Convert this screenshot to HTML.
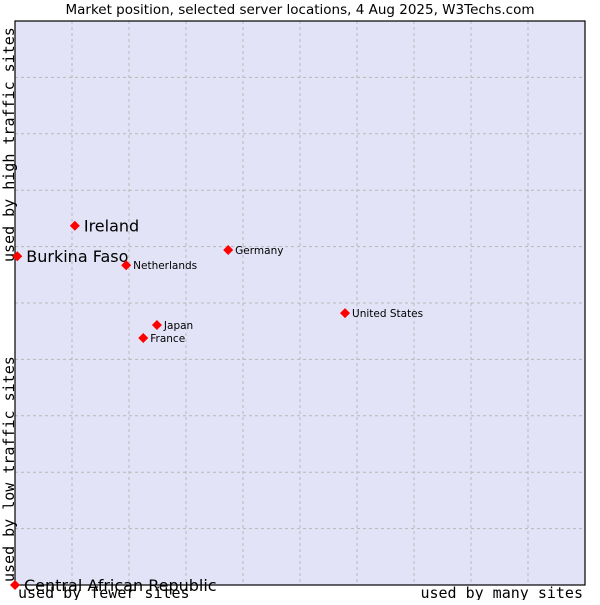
<!DOCTYPE html>
<html><head><meta charset="utf-8"><style>
body{margin:0;background:#fff;width:600px;height:600px;overflow:hidden}
</style></head><body>
<svg width="600" height="600" id="c" font-family="'DejaVu Sans','Liberation Sans',sans-serif">
<text x="300" y="14" text-anchor="middle" font-size="13.5">Market position, selected server locations, 4 Aug 2025, W3Techs.com</text>
<rect x="15" y="21" width="570" height="564" fill="#e3e3f7"/>
<g id="grid"></g>
<rect x="15" y="21" width="570" height="564" fill="none" stroke="#000" stroke-width="1.2"/>
<g font-family="'DejaVu Sans Mono','Liberation Mono',monospace" font-size="15">
<text x="18" y="598">used by fewer sites</text>
<text x="583" y="598" text-anchor="end">used by many sites</text>
<text transform="translate(14,582) rotate(-90)">used by low traffic sites</text>
<text transform="translate(14,262) rotate(-90)">used by high traffic sites</text>
</g>
<g id="pts"></g>
</svg>
<script>
const names=["Ireland","Burkina Faso","Netherlands","Germany","United States","Japan","France","Central African Republic"];
const xs=[10.5,0.4,19.5,37.4,57.9,24.9,22.5,0];
const ys=[63.7,58.3,56.7,59.4,48.2,46.1,43.8,0];
const big=[true,true,false,false,false,false,false,true];
const NS="http://www.w3.org/2000/svg";
const X=v=>15+v*5.7, Y=v=>585-v*5.64;
const g=document.getElementById('grid');
for(let i=1;i<10;i++){
 const a=document.createElementNS(NS,'line');
 a.setAttribute('x1',X(i*10));a.setAttribute('x2',X(i*10));a.setAttribute('y1',21);a.setAttribute('y2',585);
 a.setAttribute('stroke','#b8b8b8');a.setAttribute('stroke-dasharray','3,3');
 
 
 g.appendChild(a);
 const b=document.createElementNS(NS,'line');
 b.setAttribute('y1',Y(i*10));b.setAttribute('y2',Y(i*10));b.setAttribute('x1',15);b.setAttribute('x2',585);
 b.setAttribute('stroke','#b8b8b8');b.setAttribute('stroke-dasharray','3,3');
 
 
 g.appendChild(b);
}
const p=document.getElementById('pts');
names.forEach((n,i)=>{
 const x=X(xs[i]),y=Y(ys[i]);
 const d=document.createElementNS(NS,'path');
 d.setAttribute('d',`M${x-5},${y}L${x},${y-5}L${x+5},${y}L${x},${y+5}Z`);
 d.setAttribute('fill','#f00');
 
 
 p.appendChild(d);
 const t=document.createElementNS(NS,'text');
 t.setAttribute('x',x+(big[i]?9:7));t.setAttribute('y',y+(big[i]?6:4));
 t.setAttribute('font-size',big[i]?16:10.5);
 t.textContent=n;
 
 
 p.appendChild(t);
});
</script>
</body></html>
